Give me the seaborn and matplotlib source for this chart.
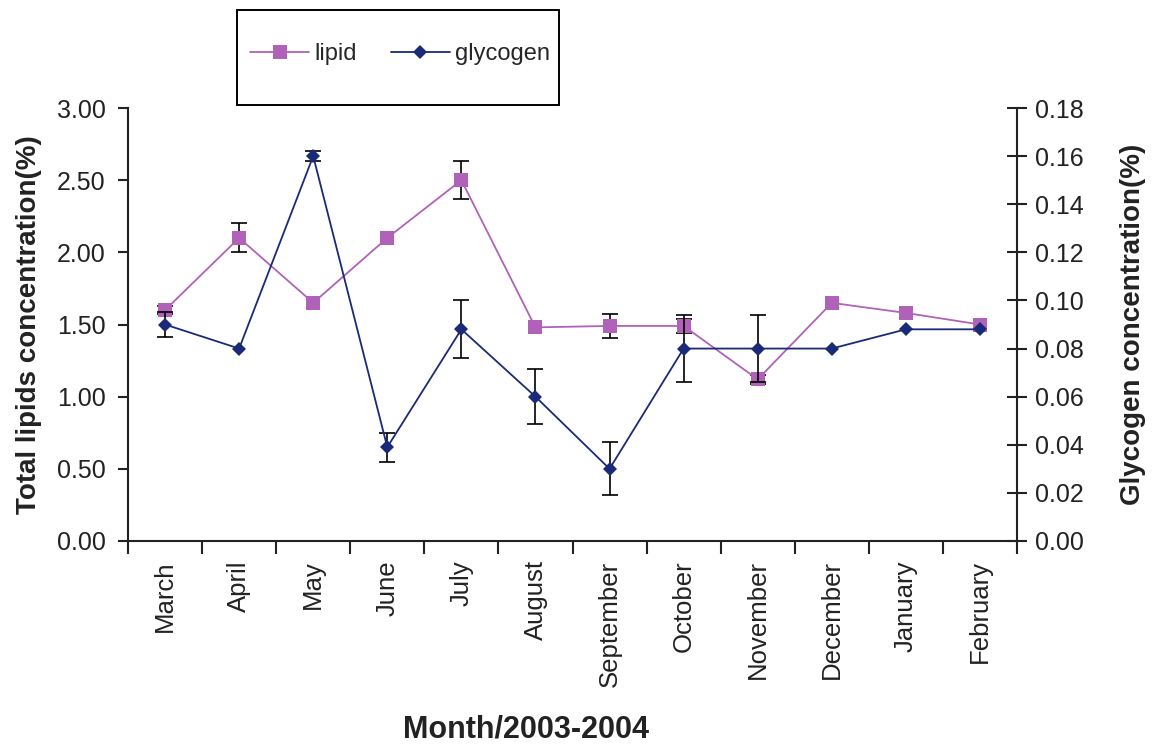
import matplotlib
matplotlib.use("Agg")
import matplotlib.pyplot as plt
from matplotlib.lines import Line2D
from matplotlib.patches import Rectangle
import numpy as np
import pandas as pd
import seaborn as sns

months = ["March", "April", "May", "June", "July", "August", "September",
          "October", "November", "December", "January", "February"]
lipid = [1.60, 2.10, 1.65, 2.10, 2.50, 1.48, 1.49, 1.49, 1.12, 1.65, 1.58, 1.50]
lipid_err = [0.03, 0.10, 0.0, 0.0, 0.13, 0.0, 0.085, 0.05, 0.03, 0.0, 0.0, 0.0]
glycogen = [0.090, 0.080, 0.160, 0.039, 0.088, 0.060, 0.030, 0.080, 0.080, 0.080, 0.088, 0.088]
glycogen_err = [0.005, 0.0, 0.002, 0.006, 0.012, 0.0115, 0.011, 0.014, 0.014, 0.0, 0.0, 0.0]

lipid_color = "#b062b8"
glyc_color = "#1b2a78"
ink = "#222222"

sns.set_style("ticks")
plt.rcParams["font.family"] = ["Liberation Sans", "DejaVu Sans"]

df = pd.DataFrame({
    "pos": np.arange(len(months)),
    "month": months,
    "lipid": lipid,
    "lipid_err": lipid_err,
    "glycogen": glycogen,
    "glycogen_err": glycogen_err,
})

W, H = 1153, 744
fig = plt.figure(figsize=(W / 100, H / 100), dpi=100)
ax = fig.add_axes([128 / W, 1 - 541 / H, 889 / W, 433 / H])
ax2 = ax.twinx()

err_kw = dict(fmt="none", ecolor="black", elinewidth=1.2, capsize=5.5,
              capthick=1.2, zorder=2)

# lipid on the left axis
le = df[df["lipid_err"] > 0]
ax.errorbar(le["pos"], le["lipid"], yerr=le["lipid_err"], **err_kw)
sns.lineplot(data=df, x="pos", y="lipid", ax=ax, color=lipid_color,
             linewidth=1.3, marker="s", markersize=9.5, markeredgewidth=0,
             zorder=3)

# glycogen on the right axis
ge = df[df["glycogen_err"] > 0]
ax2.errorbar(ge["pos"], ge["glycogen"], yerr=ge["glycogen_err"], **err_kw)
sns.lineplot(data=df, x="pos", y="glycogen", ax=ax2, color=glyc_color,
             linewidth=1.3, marker="D", markersize=7.5, markeredgewidth=0,
             zorder=3)

ax.set_xlim(-0.5, len(months) - 0.5)
ax.set_ylim(0, 3.0)
ax2.set_ylim(0, 0.18)

left_ticks = np.arange(0, 3.01, 0.5)
right_ticks = np.arange(0, 0.181, 0.02)
ax.set_yticks(left_ticks)
ax.set_yticklabels([f"{v:.2f}" for v in left_ticks])
ax2.set_yticks(right_ticks)
ax2.set_yticklabels([f"{v:.2f}" for v in right_ticks])

ax.set_xticks(df["pos"])
ax.set_xticklabels(months, rotation=90)
ax.set_xticks(np.arange(-0.5, len(months), 1.0), minor=True)
ax.tick_params(axis="x", which="major", length=0, pad=14, labelsize=18.5,
               colors=ink)
ax.tick_params(axis="x", which="minor", length=9, width=1.5, color=ink)
ax.tick_params(axis="y", length=7, width=1.5, labelsize=18, pad=9,
               color=ink, labelcolor=ink)
ax2.tick_params(axis="y", direction="inout", length=14, width=1.5,
                labelsize=18, pad=6, color=ink, labelcolor=ink)

for a in (ax, ax2):
    a.spines["top"].set_visible(False)
    for s in ("left", "right", "bottom"):
        a.spines[s].set_linewidth(1.5)
        a.spines[s].set_color(ink)
ax.spines["right"].set_visible(False)
ax2.spines["left"].set_visible(False)
ax2.spines["bottom"].set_visible(False)

ax.set_xlabel("Month/2003-2004", fontsize=22, fontweight="bold", color=ink)
ax.xaxis.set_label_coords((526 - 128) / 889, (541 - 715) / 433)
ax.set_ylabel("Total lipids concentration(%)", fontsize=20,
              fontweight="bold", color=ink)
ax.yaxis.set_label_coords((42 - 128) / 889, 0.5)
ax2.set_ylabel("Glycogen concentration(%)", fontsize=20, fontweight="bold",
               color=ink)
ax2.yaxis.set_label_coords((1120 - 128) / 889, 0.5)

# legend in a plain box above the plot
handles = [
    Line2D([], [], color=lipid_color, linewidth=1.3, marker="s",
           markersize=9.5, markeredgewidth=0),
    Line2D([], [], color=glyc_color, linewidth=1.3, marker="D",
           markersize=7.5, markeredgewidth=0),
]
fig.legend(handles, ["lipid", "glycogen"], loc="center",
           bbox_to_anchor=(400 / W, 1 - 54 / H), ncol=2, fontsize=17,
           frameon=False, handlelength=2.5, handletextpad=0.2,
           columnspacing=1.45, borderaxespad=0, borderpad=0)
fig.patches.append(Rectangle((237 / W, 1 - 105 / H), 322 / W, 95 / H,
                             transform=fig.transFigure, fill=False,
                             edgecolor="black", linewidth=1.4))

fig.savefig("out.png", dpi=100)
